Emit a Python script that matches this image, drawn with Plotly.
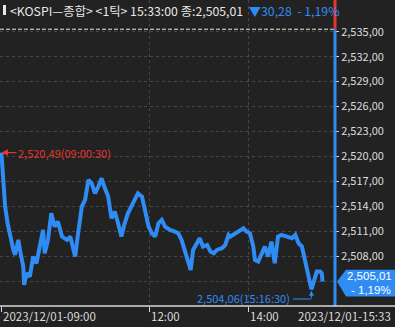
import plotly.graph_objects as go

# ---------------- data ----------------
times = ["09:00:30", "09:03", "09:05", "09:08", "09:11", "09:15", "09:17", "09:21", "09:23", "09:27",
         "09:28", "09:31", "09:35", "09:39", "09:43", "09:49", "09:51", "09:53", "09:57", "10:01",
         "10:05", "10:09", "10:14", "10:20", "10:24", "10:28", "10:30", "10:33", "10:38", "10:42",
         "10:46", "10:50", "10:54", "10:58", "11:02", "11:06", "11:10", "11:14", "11:18", "11:22",
         "11:26", "11:30", "11:34", "11:40", "11:46", "11:51", "11:55", "11:59", "12:03", "12:07",
         "12:11", "12:15", "12:19", "12:25", "12:31", "12:35", "12:39", "12:43", "12:47", "12:50",
         "12:53", "12:57", "13:01", "13:05", "13:10", "13:14", "13:18", "13:22", "13:28", "13:32",
         "13:36", "13:38", "13:44", "13:50", "13:54", "13:58", "14:02", "14:06", "14:08", "14:12",
         "14:16", "14:20", "14:24", "14:28", "14:32", "14:36", "14:40", "14:47", "14:53", "14:57",
         "15:01", "15:05", "15:09", "15:12", "15:14", "15:16:30", "15:20", "15:23", "15:27", "15:29",
         "15:30"]
prices = [2520.49, 2516.8, 2514.0, 2512.0, 2510.4, 2508.8, 2508.2, 2510.0, 2508.8, 2506.8,
          2504.6, 2506.0, 2505.6, 2508.0, 2507.2, 2510.0, 2511.2, 2508.4, 2510.0, 2513.2,
          2511.6, 2512.2, 2510.4, 2510.0, 2510.4, 2508.8, 2508.0, 2510.4, 2514.0, 2514.8,
          2517.2, 2516.8, 2515.6, 2516.4, 2517.4, 2516.2, 2515.2, 2512.6, 2513.4, 2512.0,
          2510.4, 2512.0, 2513.2, 2514.4, 2515.6, 2515.2, 2513.6, 2511.6, 2510.8, 2510.4,
          2512.0, 2512.4, 2511.6, 2511.2, 2511.0, 2510.8, 2510.0, 2508.8, 2507.6, 2506.4,
          2508.8, 2509.6, 2510.2, 2509.2, 2509.4, 2508.6, 2508.4, 2508.8, 2509.0, 2509.4,
          2510.6, 2510.4, 2510.8, 2511.2, 2511.4, 2511.0, 2510.8, 2509.2, 2507.6, 2507.4,
          2508.4, 2509.2, 2508.0, 2509.8, 2507.2, 2510.4, 2510.6, 2510.4, 2510.2, 2510.6,
          2509.6, 2509.2, 2507.2, 2506.0, 2504.8, 2504.06, 2505.2, 2506.2, 2506.2, 2506.0,
          2505.01]

prev_close = 2535.29
last_price = 2505.01
high_label = "2,520,49(09:00:30)"
low_label = "2,504,06(15:16:30)"
y_tick_vals = [2535, 2532, 2529, 2526, 2523, 2520, 2517, 2514, 2511, 2508]
y_tick_text = ["2,535,00", "2,532,00", "2,529,00", "2,526,00", "2,523,00", "2,520,00",
               "2,517,00", "2,514,00", "2,511,00", "2,508,00"]
hidden_grid_level = 2505
x_tick_vals = ["09:00", "12:00", "14:00"]
x_tick_text = ["2023/12/01-09:00", "12:00", "14:00"]
last_time_label = "2023/12/01-15:33"
title_text = "<KOSPI\u2014종합> <1틱> 15:33:00 종:2,505,01"
title_change = "▼30,28  - 1,19%"
box_line1 = "2,505,01"
box_line2 = "- 1,19%"


def to_min(t):
    p = [int(s) for s in t.split(":")]
    while len(p) < 3:
        p.append(0)
    return (p[0] - 9) * 60 + p[1] + p[2] / 60.0


xs = [to_min(t) for t in times]
xt = [to_min(t) for t in x_tick_vals]

# ---------------- style ----------------
BG = "#222222"
BLUE = "#2f8cf5"
RED = "#e2372e"
TXT = "#dcdcdc"
GRID = "#474747"
FONT = "Noto Sans CJK KR"
BOXFONT = "Liberation Sans"

W, H = 395, 327
PL, PR, PT, PB = 0, 60, 0, 21
plot_w = W - PL - PR
plot_h = H - PT - PB
px_per_min = 0.8245
x_range = [-1.0 / px_per_min, (plot_w - 1.0) / px_per_min]
y_range = [2502.07, 2538.8]


def xp(px):  # paper x from pixel
    return (px - PL) / plot_w


def yp(py):  # paper y from pixel
    return (PT + plot_h - py) / plot_h


fig = go.Figure()
fig.add_trace(go.Scatter(x=xs, y=prices, mode="lines",
                         line=dict(color=BLUE, width=4), hoverinfo="skip"))

i_hi = prices.index(max(prices))
i_lo = prices.index(min(prices))

shapes = [
    dict(type="line", xref="paper", yref="y", x0=0, x1=1, y0=hidden_grid_level, y1=hidden_grid_level,
         layer="below", line=dict(color=GRID, width=1, dash="3px,3px")),
    dict(type="line", xref="paper", yref="y", x0=0, x1=1, y0=prev_close, y1=prev_close,
         line=dict(color="#e8e8e8", width=1, dash="4px,2px")),
    dict(type="line", xref="paper", yref="y", x0=1, x1=1, y0=prev_close, y1=y_range[1],
         line=dict(color=RED, width=3)),
    dict(type="line", xref="paper", yref="y", x0=1, x1=1, y0=y_range[0], y1=prev_close,
         line=dict(color=BLUE, width=3)),
    dict(type="line", xref="paper", yref="paper", x0=0, x1=W / plot_w, y0=0, y1=0,
         line=dict(color="#d8d8d8", width=1.5)),
    dict(type="rect", xref="paper", yref="paper", x0=xp(3), x1=xp(6), y0=yp(15), y1=yp(5),
         fillcolor="#e8e8e8", line=dict(width=0)),
    dict(type="path", xref="paper", yref="y",
         path="M {a},{c} L {b},{t} L {r},{t} L {r},{bt} L {b},{bt} Z".format(
             a=xp(337), b=xp(346), r=xp(395), c=last_price, t=last_price + 1.4, bt=last_price - 1.8),
         fillcolor=BLUE, line=dict(width=0)),
    dict(type="line", xref="x", yref="paper", x0=(293 - 1) / px_per_min, x1=xs[i_lo],
         y0=yp(299), y1=yp(299), line=dict(color=BLUE, width=1)),
]

title_html = "{}  <span style='color:{}'>{}</span>".format(title_text, BLUE, title_change)

annotations = [
    dict(xref="paper", yref="paper", x=xp(8), y=yp(11), text=title_html, showarrow=False,
         xanchor="left", yanchor="middle", font=dict(family=FONT, size=12.3, color="#e8e8e8")),
    dict(xref="x", yref="y", x=xs[i_hi], y=prices[i_hi], text=high_label, showarrow=True,
         ax=63, ay=0, arrowhead=2, arrowsize=1, arrowwidth=1.3, arrowcolor=RED,
         font=dict(family=FONT, size=11, color=RED)),
    dict(xref="x", yref="paper", x=(292 - 1) / px_per_min, y=yp(298), text=low_label,
         showarrow=False, xanchor="right", yanchor="middle",
         font=dict(family=FONT, size=11, color=BLUE)),
    dict(xref="x", yref="y", x=xs[i_lo], y=prices[i_lo] - 0.15, text="", showarrow=True,
         ax=0, ay=9, arrowhead=2, arrowsize=1, arrowwidth=1, arrowcolor=BLUE),
    dict(xref="paper", yref="paper", x=xp(393), y=yp(275.5), text=box_line1, borderpad=0,
         showarrow=False, xanchor="right", yanchor="middle",
         font=dict(family=BOXFONT, size=11.5, color="white")),
    dict(xref="paper", yref="paper", x=xp(392), y=yp(289.5), text=box_line2, borderpad=0,
         showarrow=False, xanchor="right", yanchor="middle",
         font=dict(family=BOXFONT, size=11.5, color="white")),
    dict(xref="paper", yref="paper", x=xp(393), y=yp(316), text=last_time_label, showarrow=False,
         xanchor="right", yanchor="middle", font=dict(family=FONT, size=11.5, color=TXT)),
]
for v, t in zip(xt, x_tick_text):
    annotations.append(dict(xref="x", yref="paper", x=v, y=yp(316), text=t, showarrow=False,
                            xanchor="left", yanchor="middle",
                            font=dict(family=FONT, size=11.5, color=TXT)))

fig.update_layout(
    width=W, height=H,
    margin=dict(l=PL, r=PR, t=PT, b=PB, pad=0),
    paper_bgcolor=BG, plot_bgcolor=BG,
    showlegend=False,
    shapes=shapes, annotations=annotations,
    xaxis=dict(range=x_range, tickvals=xt, showticklabels=False, ticks="outside",
               ticklen=5, tickcolor="#d8d8d8", tickwidth=1,
               showgrid=True, gridcolor=GRID, griddash="3px,3px", gridwidth=1,
               zeroline=False, showline=False, fixedrange=True),
    yaxis=dict(range=y_range, side="right", tickvals=y_tick_vals, ticktext=y_tick_text,
               ticks="outside", ticklen=3, tickcolor="#d8d8d8",
               tickfont=dict(family=FONT, size=11, color=TXT),
               showgrid=True, gridcolor=GRID, griddash="3px,3px", gridwidth=1,
               zeroline=False, showline=False, fixedrange=True),
    font=dict(family=FONT),
)

fig.write_html("out.html")
